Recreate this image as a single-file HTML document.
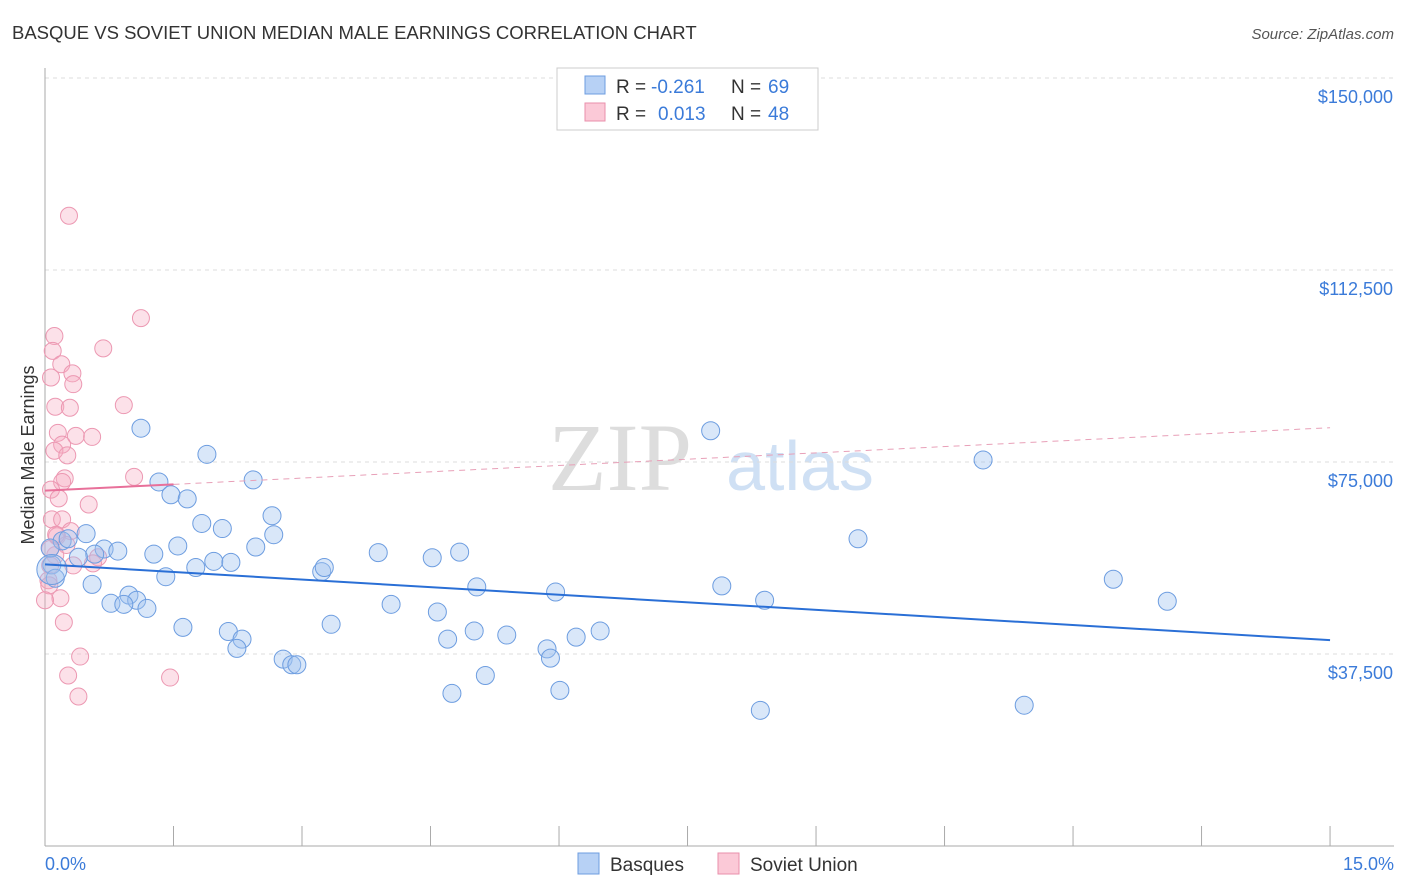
<!DOCTYPE html>
<html><head><meta charset="utf-8"><style>
body{margin:0;background:#fff;font-family:"Liberation Sans",sans-serif;}
svg{display:block}
</style></head><body>
<svg width="1406" height="892">
<text x="12" y="39" font-size="18.5" fill="#333">BASQUE VS SOVIET UNION MEDIAN MALE EARNINGS CORRELATION CHART</text>
<text x="1394" y="39" font-size="15" fill="#555" font-style="italic" text-anchor="end">Source: ZipAtlas.com</text>
<text x="620" y="490" font-size="96" fill="#ddd" font-family="Liberation Serif" text-anchor="middle">ZIP</text>
<text x="800" y="490" font-size="70" fill="#cfe0f4" text-anchor="middle">atlas</text>
<g id="grid"></g>
<line x1="45" y1="68" x2="45" y2="846" stroke="#aaa"/>
<line x1="45" y1="846" x2="1394" y2="846" stroke="#aaa"/>
<g id="xt"></g>
<text transform="translate(34,455) rotate(-90)" font-size="18" fill="#333" text-anchor="middle">Median Male Earnings</text>
<text x="45" y="870" font-size="18" fill="#3b7bd9">0.0%</text>
<text x="1394" y="870" font-size="18" fill="#3b7bd9" text-anchor="end">15.0%</text>
<g id="pts"></g>
<g id="lines"></g>
<g font-size="19">
<rect x="557" y="68" width="261" height="62" fill="#fff" stroke="#ccc"/>
<rect x="585" y="76" width="20" height="18" fill="#b7d1f5" stroke="#6d9de0"/>
<rect x="585" y="103" width="20" height="18" fill="#fbc9d7" stroke="#e98fab"/>
<text x="616" y="93" fill="#333">R =</text>
<text x="651" y="93" fill="#3b7bd9">-0.261</text>
<text x="731" y="93" fill="#333">N =</text>
<text x="768" y="93" fill="#3b7bd9">69</text>
<text x="616" y="120" fill="#333">R =</text>
<text x="658" y="120" fill="#3b7bd9">0.013</text>
<text x="731" y="120" fill="#333">N =</text>
<text x="768" y="120" fill="#3b7bd9">48</text>
</g>
<g>
<rect x="578" y="853" width="21" height="21" fill="#b7d1f5" stroke="#6d9de0"/>
<text x="610" y="871" font-size="19" fill="#333">Basques</text>
<rect x="718" y="853" width="21" height="21" fill="#fbc9d7" stroke="#e98fab"/>
<text x="750" y="871" font-size="19" fill="#333">Soviet Union</text>
</g>
</svg>
<script>
const yTicks=[37500,75000,112500,150000];
const yTickLabels=["$37,500","$75,000","$112,500","$150,000"];
const blueX=[1.12,1.89,1.33,2.43,1.47,1.66,2.65,1.83,2.07,2.67,0.48,0.20,0.27,0.69,0.85,0.58,1.55,1.27,2.46,1.97,2.17,1.76,3.23,3.26,1.41,0.55,0.98,1.07,0.77,0.92,1.19,1.61,2.14,2.30,2.24,2.78,2.88,2.94,3.34,3.89,4.52,4.84,5.04,5.96,4.04,4.58,5.01,4.70,5.39,5.86,5.90,6.20,6.48,4.75,5.14,6.01,7.77,10.95,9.49,7.90,8.40,12.47,13.10,8.35,11.43,0.08,0.12,0.39,0.06,0.08];
const blueY=[81.6,76.5,71.1,71.5,68.6,67.8,64.5,63.0,62.0,60.8,61.0,59.6,60.0,58.0,57.6,57.0,58.6,57.0,58.4,55.6,55.4,54.4,53.6,54.4,52.6,51.1,49.0,48.0,47.4,47.2,46.4,42.7,41.9,40.4,38.6,36.5,35.4,35.4,43.3,57.3,56.3,57.4,50.6,49.6,47.2,45.7,42.0,40.4,41.2,38.5,36.7,40.8,42.0,29.8,33.3,30.4,81.1,75.4,60.0,50.8,48.0,52.1,47.8,26.5,27.5,54.9,52.3,56.4,58.2,54.0];
const blueR=[9,9,9,9,9,9,9,9,9,9,9,9,9,9,9,9,9,9,9,9,9,9,9,9,9,9,9,9,9,9,9,9,9,9,9,9,9,9,9,9,9,9,9,9,9,9,9,9,9,9,9,9,9,9,9,9,9,9,9,9,9,9,9,9,9,9,9,9,9,15];
const pinkX=[0.28,1.12,0.11,0.09,0.68,0.19,0.32,0.07,0.33,0.92,0.12,0.29,0.15,0.36,0.55,0.20,0.11,0.26,0.23,0.20,1.04,0.07,0.16,0.51,0.08,0.20,0.30,0.14,0.25,0.12,0.62,0.56,0.33,0.06,0.04,0.05,0.18,0.00,0.22,0.41,0.27,0.39,1.46,0.06,0.13];
const pinkY=[123.1,103.1,99.6,96.7,97.2,94.1,92.3,91.5,90.2,86.1,85.8,85.6,80.7,80.1,79.9,78.4,77.2,76.3,71.8,71.1,72.1,69.6,67.9,66.7,63.8,63.8,61.5,60.5,58.8,56.8,56.4,55.2,54.8,54.8,51.9,50.9,48.4,48.0,43.7,37.0,33.3,29.2,32.9,58.0,60.8];
const blueTrend=[55.0,40.2];
const pinkTrend=[69.4,81.7];
const X=p=>45+p*85.67, Y=v=>846-v/37500*192;
const NS="http://www.w3.org/2000/svg";
function mk(t,a,p){const e=document.createElementNS(NS,t);for(const k in a)e.setAttribute(k,a[k]);p.appendChild(e);return e;}
const g=document.getElementById('grid');
yTicks.forEach((v,i)=>{
 const l=mk('line',{x1:45,x2:1394,y1:Y(v),y2:Y(v),stroke:'#ddd','stroke-dasharray':'4,4'},g);
 
 
 const t=mk('text',{x:1393,y:Y(v)+25,'font-size':18,fill:'#3b7bd9','text-anchor':'end'},g);
 t.textContent=yTickLabels[i];
 
 
});
const xt=document.getElementById('xt');
for(let i=0;i<=10;i++){const l=mk('line',{x1:X(i*1.5),x2:X(i*1.5),y1:826,y2:846,stroke:'#aaa'},xt);
 
 }
const pts=document.getElementById('pts');
pinkX.forEach((x,i)=>{const c=mk('circle',{cx:X(x),cy:Y(pinkY[i]*1000),r:8.5,fill:'rgba(246,168,192,0.35)',stroke:'#ec98b2','stroke-width':1},pts);
 
 });
blueX.forEach((x,i)=>{const c=mk('circle',{cx:X(x),cy:Y(blueY[i]*1000),r:blueR[i],fill:'rgba(160,195,240,0.4)',stroke:'#6d9de0','stroke-width':1},pts);
 
 });
const ln=document.getElementById('lines');
let b=mk('line',{x1:X(0),y1:Y(blueTrend[0]*1000),x2:X(15),y2:Y(blueTrend[1]*1000),stroke:'#2a6fd6','stroke-width':2},ln);


const pAt=p=>pinkTrend[0]+(pinkTrend[1]-pinkTrend[0])*p/15;
let p1=mk('line',{x1:X(0),y1:Y(pAt(0)*1000),x2:X(1.5),y2:Y(pAt(1.5)*1000),stroke:'#e8709a','stroke-width':2},ln);


let p2=mk('line',{x1:X(1.5),y1:Y(pAt(1.5)*1000),x2:X(15),y2:Y(pAt(15)*1000),stroke:'#e8a0b8','stroke-width':1,'stroke-dasharray':'6,5'},ln);


</script>
</body></html>
